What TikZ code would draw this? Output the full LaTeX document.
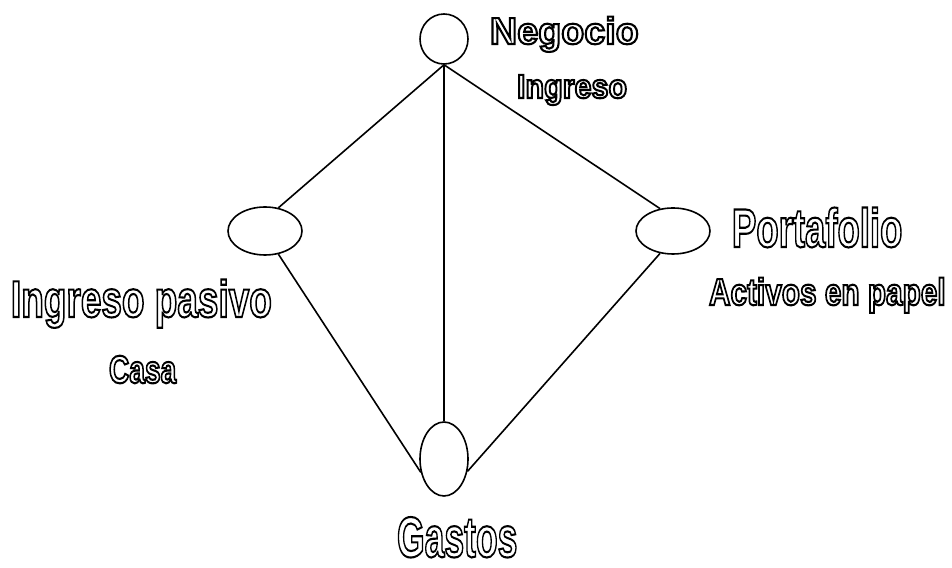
\documentclass[tikz,border=0pt]{standalone}
\usepackage{fontspec}
\usepackage{graphicx}
\setmainfont{Liberation Sans}
\usetikzlibrary{shapes.geometric}
\newcommand\outlinetext[3]{%
  {\fontsize{#1}{#1}\selectfont\bfseries\scalebox{#2}[1]{\special{pdf:literal direct 1 Tr 2.1 w}#3\special{pdf:literal direct 0 Tr}}}}
\tikzset{
  bubble/.style={draw, ellipse, line width=1.6pt, inner sep=0pt, fill=white},
  link/.style={line width=1.6pt},
  lbl/.style={anchor=base west, inner sep=0pt, outer sep=0pt}
}
\begin{document}
\begin{tikzpicture}[x=1pt,y=1pt]
\useasboundingbox[fill=white] (0,0) rectangle (952,567);
% nodes
\node[bubble, minimum width=48pt, minimum height=50pt] (T) at (444,528) {};
\node[bubble, minimum width=74pt, minimum height=48pt] (L) at (265,336) {};
\node[bubble, minimum width=74pt, minimum height=46pt] (R) at (673,336) {};
\node[bubble, minimum width=48pt, minimum height=74pt] (B) at (444,108) {};
% connectors
\draw[link] (T.south) -- (L.60);
\draw[link] (T.south) -- (R.120);
\draw[link] (T.south) -- (B.north);
\draw[link] (L.-60) -- (B.210);
\draw[link] (R.-120) -- (B.-28);
% labels
\node[lbl] (tneg) at (490,523) {\outlinetext{37.7}{1.0}{Negocio}};
\node[lbl] (ting) at (517,469) {\outlinetext{33.5}{0.91}{Ingreso}};
\node[lbl] (tpor) at (732,320) {\outlinetext{54.5}{0.67}{Portafolio}};
\node[lbl] (tact) at (709,262) {\outlinetext{37.7}{0.79}{Activos en papel}};
\node[lbl] (tpas) at (11,250) {\outlinetext{51.7}{0.715}{Ingreso pasivo}};
\node[lbl] (tcas) at (109,184) {\outlinetext{39.1}{0.72}{Casa}};
\node[lbl] (tgas) at (397,10) {\outlinetext{57.3}{0.62}{Gastos}};
\end{tikzpicture}
\end{document}
